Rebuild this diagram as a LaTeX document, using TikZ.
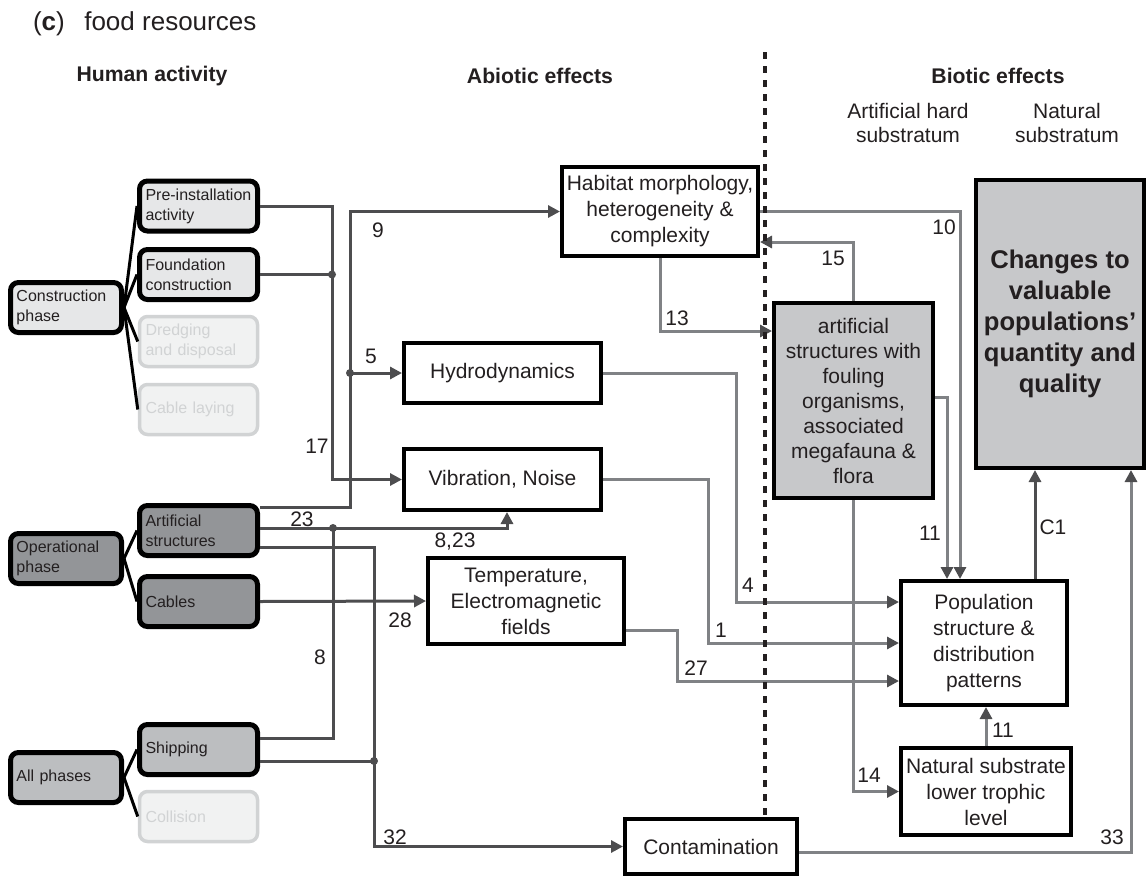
\documentclass[tikz,border=0pt]{standalone}
\usepackage{fontspec}
\setmainfont{Liberation Sans}
\usepackage{tikz}
\usetikzlibrary{arrows.meta}

\definecolor{txt}{HTML}{231F20}
\definecolor{linkdk}{HTML}{4D4D4F}
\definecolor{linklt}{HTML}{808285}
\definecolor{consfill}{HTML}{E6E7E8}
\definecolor{operfill}{HTML}{939598}
\definecolor{allfill}{HTML}{BCBEC0}
\definecolor{fadefill}{HTML}{F1F2F2}
\definecolor{fadeline}{HTML}{D1D3D4}
\definecolor{biofill}{HTML}{C7C8CA}

\begin{document}
\begin{tikzpicture}[x=0.5pt,y=-0.5pt,
  phase/.style={draw=black,line width=2.5pt,rounded corners=4pt,text=txt,
    font=\fontsize{8}{10}\selectfont,align=left,inner xsep=3pt,inner ysep=1pt,
    text width=49.5pt,minimum height=25pt},
  act/.style={phase,text width=53pt},
  faded/.style={act,draw=fadeline,fill=fadefill,text=fadeline,line width=1.75pt},
  effect/.style={draw=black,line width=2pt,fill=white,text=txt,align=center,
    font=\fontsize{10.5}{13}\selectfont,inner sep=1pt},
  biotic/.style={effect,fill=biofill},
  head/.style={text=txt,font=\fontsize{10.6}{12}\selectfont\bfseries},
  sub/.style={text=txt,align=center,font=\fontsize{10.5}{12}\selectfont},
  num/.style={text=txt,font=\fontsize{10.5}{12}\selectfont,inner sep=0pt},
  tree/.style={draw=black,line width=1.5pt},
  link/.style={draw=linkdk,line width=1.5pt},
  lite/.style={draw=linklt,line width=1.5pt,
    >={Triangle[length=6pt,width=6pt,color=linkdk]}},
  dot/.style={fill=linkdk}]

\useasboundingbox (0,0) rectangle (1147,879);

\node[anchor=base west,text=txt,font=\fontsize{13}{15}\selectfont] (title) at (26,30)
  {(\textbf{c})\hspace{0.75em}food resources};

\node[head] (hhum) at (152,76) {Human activity};
\node[head] (habi) at (540,76) {Abiotic effects};
\node[head] (hbio) at (998,76) {Biotic effects};
\node[sub] (sart) at (908,123) {Artificial hard\\substratum};
\node[sub] (snat) at (1067,123) {Natural\\substratum};

\node[phase,fill=consfill] (cons) at (66,307.5) {Construction\\phase};
\node[act,fill=consfill] (pre) at (198.5,206) {Pre-installation\\activity};
\node[act,fill=consfill] (found) at (198.5,274.5) {Foundation\\construction};
\node[faded] (dredge) at (198.5,341.5) {Dredging\\and disposal};
\node[faded] (cablay) at (198.5,409.5) {Cable laying};
\node[phase,fill=operfill] (oper) at (66,558.5) {Operational\\phase};
\node[act,fill=operfill] (art) at (198.5,530.5) {Artificial\\structures};
\node[act,fill=operfill] (cables) at (198.5,601.5) {Cables};
\node[phase,fill=allfill] (all) at (66,777.5) {All phases};
\node[act,fill=allfill] (ship) at (198.5,749.5) {Shipping};
\node[faded] (coll) at (198.5,816.5) {Collision};

\node[effect,minimum width=98pt,minimum height=44.5pt] (habitat) at (660,211.5)
  {Habitat morphology,\\heterogeneity \&\\complexity};
\node[effect,minimum width=98.5pt,minimum height=30pt] (hydro) at (502.5,373) {Hydrodynamics};
\node[effect,minimum width=98.5pt,minimum height=30.5pt] (vib) at (502.5,479.5) {Vibration, Noise};
\node[effect,minimum width=98pt,minimum height=43pt] (temp) at (526,601)
  {Temperature,\\Electromagnetic\\fields};
\node[effect,minimum width=86pt,minimum height=27.5pt] (contam) at (711,846.5) {Contamination};

\node[biotic,minimum width=79.5pt,minimum height=97.5pt,font=\fontsize{10.5}{12.5}\selectfont] (foul) at (853.5,400.5)
  {artificial\\structures with\\fouling\\organisms,\\associated\\megafauna \&\\flora};
\node[biotic,minimum width=84pt,minimum height=144pt,font=\fontsize{12.8}{15.5}\selectfont\bfseries] (chg) at (1060,324)
  {Changes to\\valuable\\populations'\\quantity and\\quality};
\node[effect,minimum width=83pt,minimum height=62pt] (pop) at (984,643)
  {Population\\structure \&\\distribution\\patterns};
\node[effect,minimum width=85pt,minimum height=43.5pt] (nat) at (986,791.5)
  {Natural substrate\\lower trophic\\level};

\draw[tree] (cons.east) -- (pre.west);
\draw[tree] (cons.east) -- (found.west);
\draw[tree] (cons.east) -- (dredge.west);
\draw[tree] (cons.east) -- (cablay.west);
\draw[tree] (oper.east) -- (art.west);
\draw[tree] (oper.east) -- (cables.west);
\draw[tree] (all.east) -- (ship.west);
\draw[tree] (all.east) -- (coll.west);

\coordinate (j17) at (332,274.5);
\coordinate (j5) at (350,373);
\coordinate (j23) at (333,528);
\coordinate (j32) at (374,761);
\coordinate (k4) at (736,602);
\coordinate (k1) at (708,643);
\coordinate (k27) at (677,681);
\coordinate (divtop) at (765,52);

\begin{scope}[>={Triangle[length=6pt,width=6pt]}]
\draw[link,->] (pre.east) -| (j17) |- (vib.west);
\draw[link] (found.east) -- (j17);
\draw[link,->] ([yshift=11.75pt]art.east) -| (j5) |- (habitat.west);
\draw[link,->] (j5) -- (hydro.west);
\draw[link,->] ([yshift=1.25pt]art.east) -| ([xshift=2.25pt]vib.south);
\draw[link] ([yshift=5.75pt]ship.east) -| (j23);
\draw[link,->] ([yshift=-8.25pt]art.east) -| (j32) |- (contam.west);
\draw[link] ([yshift=-5.75pt]ship.east) -- (j32);
\draw[link,->] (cables.east) -- (temp.west);

\draw[lite,->] (habitat.east) -| ([xshift=-12pt]pop.north);
\draw[lite,->] ([yshift=1.75pt]foul.east) -| ([xshift=-18.5pt]pop.north);
\draw[lite,->] (foul.north) |- ([yshift=-15.25pt]habitat.east);
\draw[lite,->] (habitat.south) |- ([yshift=34.75pt]foul.west);
\draw[lite,->] (hydro.east) -| (k4) -- ([yshift=20.5pt]pop.west);
\draw[lite,->] (vib.east) -| (k1) -- (pop.west);
\draw[lite,->] ([yshift=-14.5pt]temp.east) -| (k27) -- ([yshift=-19pt]pop.west);
\draw[lite,->] (foul.south) |- (nat.west);
\draw[lite,->] (nat.north) -- (nat.north |- pop.south);
\draw[link,->] ([xshift=25.5pt]pop.north) -- ([xshift=25.5pt]pop.north |- chg.south);
\draw[lite,->] ([yshift=-2.75pt]contam.east) -| ([xshift=35.5pt]chg.south);
\end{scope}

\fill[dot] (j17) circle (2pt);
\fill[dot] (j5) circle (2pt);
\fill[dot] (j23) circle (2pt);
\fill[dot] (j32) circle (2pt);

\draw[draw=txt,line width=1.75pt,dash pattern=on 3.5pt off 3.5pt] (divtop) -- (divtop |- contam.north);

\node[num] (l17) at (317,446) {17};
\node[num] (l9) at (378,230) {9};
\node[num] (l5) at (371,356) {5};
\node[num] (l23) at (302,519) {23};
\node[num] (l823) at (455,542) {8,23};
\node[num] (l8) at (320,657) {8};
\node[num] (l28) at (400,620) {28};
\node[num] (l32) at (395,837) {32};
\node[num] (l13) at (677,318) {13};
\node[num] (l10) at (944,227) {10};
\node[num] (l15) at (833,258) {15};
\node[num] (l4) at (748,585) {4};
\node[num] (l1) at (721,630) {1};
\node[num] (l27) at (696,668) {27};
\node[num] (l11a) at (930,533) {11};
\node[num] (lc1) at (1053,527) {C1};
\node[num] (l11b) at (1003,730) {11};
\node[num] (l14) at (869,775) {14};
\node[num] (l33) at (1112,837) {33};
\end{tikzpicture}
\end{document}
